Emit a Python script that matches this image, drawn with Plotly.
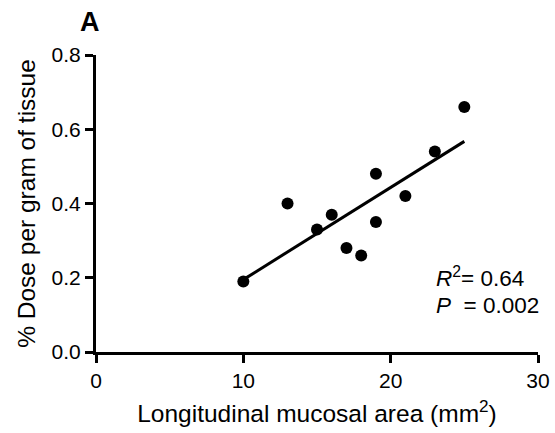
import numpy as np
import plotly.graph_objects as go

# Data
area_mm2 = [10, 13, 15, 16, 17, 18, 19, 19, 21, 23, 25]
dose_per_gram = [0.19, 0.40, 0.33, 0.37, 0.28, 0.26, 0.48, 0.35, 0.42, 0.54, 0.66]
x_ticks = [0, 10, 20, 30]
y_ticks = [0.0, 0.2, 0.4, 0.6, 0.8]
r2_text = "0.64"
p_text = "0.002"

# Linear regression line over the data range
slope, intercept = np.polyfit(area_mm2, dose_per_gram, 1)
fit_x = [min(area_mm2), max(area_mm2)]
fit_y = [slope * v + intercept for v in fit_x]

FONT = "Liberation Sans, Arial, Helvetica, sans-serif"

fig = go.Figure()
fig.add_trace(go.Scatter(x=fit_x, y=fit_y, mode="lines",
                         line=dict(color="black", width=3),
                         showlegend=False, hoverinfo="skip"))
fig.add_trace(go.Scatter(x=area_mm2, y=dose_per_gram, mode="markers",
                         marker=dict(color="black", size=12),
                         showlegend=False, cliponaxis=False))

fig.update_layout(
    width=555, height=433,
    margin=dict(l=96, r=17, t=55, b=81),
    paper_bgcolor="white", plot_bgcolor="white",
    font=dict(family=FONT, color="black", size=21),
    xaxis=dict(range=[0, 30], tickvals=x_ticks, showgrid=False, zeroline=False,
               automargin=False, ticklabeloverflow="allow",
               showline=True, linecolor="black", linewidth=3,
               ticks="outside", ticklen=8, tickwidth=3, tickcolor="black",
               tickfont=dict(size=21),
               title=dict(text="Longitudinal mucosal area (mm<sup>2</sup>)",
                          font=dict(size=24.5), standoff=14)),
    yaxis=dict(range=[0, 0.8], tickvals=y_ticks, tickformat=".1f",
               showgrid=False, zeroline=False, automargin=False,
               ticklabeloverflow="allow",
               showline=True, linecolor="black", linewidth=3,
               ticks="outside", ticklen=8, tickwidth=3, tickcolor="black",
               tickfont=dict(size=21),
               title=dict(text="% Dose per gram of tissue",
                          font=dict(size=24.5), standoff=10)),
)

fig.add_annotation(text="<b>A</b>", xref="paper", yref="paper",
                   x=-0.04, y=1.11, xanchor="left", yanchor="middle",
                   showarrow=False, font=dict(size=27))
fig.add_annotation(text="<i>R</i><sup>2</sup>= " + r2_text, xref="paper", yref="paper",
                   x=0.765, y=0.253, xanchor="left", yanchor="middle",
                   showarrow=False, font=dict(size=22.5))
fig.add_annotation(text="<i>P</i>  = " + p_text, xref="paper", yref="paper",
                   x=0.765, y=0.155, xanchor="left", yanchor="middle",
                   showarrow=False, font=dict(size=22.5))

fig.write_html("out.html",
               config={"displayModeBar": False},
               post_script="document.body.style.margin='0px';document.body.style.overflow='hidden';")
